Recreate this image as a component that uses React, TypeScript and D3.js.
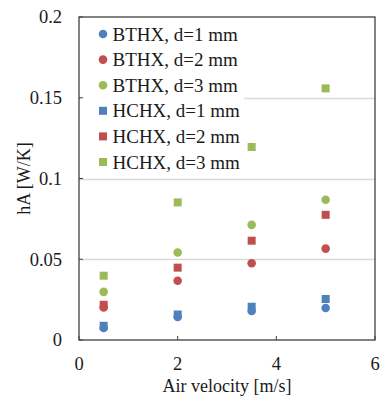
import { useEffect, useRef } from 'react'
import * as d3 from 'd3'

// air velocity [m/s]
const velocities = [0.5, 2, 3.5, 5]

const seriesNames = [
  'BTHX, d=1 mm',
  'BTHX, d=2 mm',
  'BTHX, d=3 mm',
  'HCHX, d=1 mm',
  'HCHX, d=2 mm',
  'HCHX, d=3 mm',
]
const seriesShapes = ['circle', 'circle', 'circle', 'square', 'square', 'square']
const seriesColors = ['#4F81BD', '#C0504D', '#9BBB59', '#4F81BD', '#C0504D', '#9BBB59']

// hA [W/K]
const bthx1 = [0.0075, 0.0142, 0.018, 0.0198]
const bthx2 = [0.0202, 0.0367, 0.0475, 0.0566]
const bthx3 = [0.0298, 0.0542, 0.0713, 0.0868]
const hchx1 = [0.0088, 0.0158, 0.0206, 0.0254]
const hchx2 = [0.0218, 0.0448, 0.0615, 0.0775]
const hchx3 = [0.0398, 0.0852, 0.1195, 0.1558]

const yTicks = [0, 0.05, 0.1, 0.15, 0.2]
const yTickLabels = ['0', '0.05', '0.1', '0.15', '0.2']
const xTicks = [0, 2, 4, 6]

export default function App() {
  const svgRef = useRef<SVGSVGElement>(null)

  useEffect(() => {
    if (!svgRef.current) return
    const svg = d3.select(svgRef.current)
    svg.selectAll('*').remove()

    const width = 380
    const height = 398
    const margin = { top: 17, right: 5, bottom: 58, left: 79 }
    const font = '"Liberation Serif", "Times New Roman", serif'
    const textColor = '#1a1a1a'

    const x = d3.scaleLinear().domain([0, 6]).range([margin.left, width - margin.right])
    const y = d3.scaleLinear().domain([0, 0.2]).range([height - margin.bottom, margin.top])

    svg.attr('width', width).attr('height', height)
    svg.append('rect').attr('width', width).attr('height', height).attr('fill', '#fff')

    // gridlines
    svg.append('g')
      .selectAll('line')
      .data(yTicks.slice(1, -1))
      .enter()
      .append('line')
      .attr('x1', x(0))
      .attr('x2', x(6))
      .attr('y1', d => Math.round(y(d)) + 0.5)
      .attr('y2', d => Math.round(y(d)) + 0.5)
      .attr('stroke', '#d9d9d9')
      .attr('stroke-width', 1.5)

    // legend background (covers gridlines)
    svg.append('rect')
      .attr('x', x(0) + 1)
      .attr('y', margin.top + 1)
      .attr('width', 164)
      .attr('height', 154)
      .attr('fill', '#fff')

    const allSeries = [bthx1, bthx2, bthx3, hchx1, hchx2, hchx3]
    const size = 8

    // markers
    allSeries.forEach((values, si) => {
      const g = svg.append('g')
      const pts = velocities.map((v, i) => ({ v, h: values[i] }))
      if (seriesShapes[si] === 'circle') {
        g.selectAll('circle')
          .data(pts)
          .enter()
          .append('circle')
          .attr('cx', d => x(d.v))
          .attr('cy', d => y(d.h))
          .attr('r', size / 2 + 0.3)
          .attr('fill', seriesColors[si])
      } else {
        g.selectAll('rect')
          .data(pts)
          .enter()
          .append('rect')
          .attr('x', d => x(d.v) - size / 2)
          .attr('y', d => y(d.h) - size / 2)
          .attr('width', size)
          .attr('height', size)
          .attr('fill', seriesColors[si])
      }
    })

    // frame
    svg.append('rect')
      .attr('x', x(0))
      .attr('y', y(0.2))
      .attr('width', x(6) - x(0))
      .attr('height', y(0) - y(0.2))
      .attr('fill', 'none')
      .attr('stroke', '#404040')
      .attr('stroke-width', 1.3)

    // y ticks
    svg.append('g')
      .selectAll('line')
      .data(yTicks)
      .enter()
      .append('line')
      .attr('x1', x(0))
      .attr('x2', x(0) + 4)
      .attr('y1', d => y(d))
      .attr('y2', d => y(d))
      .attr('stroke', '#404040')

    svg.append('g')
      .selectAll('text')
      .data(yTicks)
      .enter()
      .append('text')
      .attr('x', 62)
      .attr('y', d => y(d))
      .attr('dy', '0.35em')
      .attr('text-anchor', 'end')
      .style('font-family', font)
      .style('font-size', '18.5px')
      .style('fill', textColor)
      .text((d, i) => yTickLabels[i])

    // x ticks
    svg.append('g')
      .selectAll('line')
      .data(xTicks)
      .enter()
      .append('line')
      .attr('x1', d => x(d))
      .attr('x2', d => x(d))
      .attr('y1', y(0))
      .attr('y2', y(0) - 4)
      .attr('stroke', '#404040')

    svg.append('g')
      .selectAll('text')
      .data(xTicks)
      .enter()
      .append('text')
      .attr('x', d => x(d))
      .attr('y', 370)
      .attr('text-anchor', 'middle')
      .style('font-family', font)
      .style('font-size', '18.5px')
      .style('fill', textColor)
      .text(d => String(d))

    // axis titles
    svg.append('text')
      .attr('x', (x(0) + x(6)) / 2)
      .attr('y', 392)
      .attr('text-anchor', 'middle')
      .style('font-family', font)
      .style('font-size', '18px')
      .style('fill', textColor)
      .text('Air velocity [m/s]')

    svg.append('text')
      .attr('transform', `translate(30,${(y(0) + y(0.2)) / 2}) rotate(-90)`)
      .attr('text-anchor', 'middle')
      .style('font-family', font)
      .style('font-size', '18px')
      .style('fill', textColor)
      .text('hA [W/K]')

    // legend
    const legend = svg.append('g')
    seriesNames.forEach((name, i) => {
      const cy = 34 + i * 25.6
      if (seriesShapes[i] === 'circle') {
        legend.append('circle')
          .attr('cx', 103)
          .attr('cy', cy)
          .attr('r', size / 2 + 0.3)
          .attr('fill', seriesColors[i])
      } else {
        legend.append('rect')
          .attr('x', 103 - size / 2)
          .attr('y', cy - size / 2)
          .attr('width', size)
          .attr('height', size)
          .attr('fill', seriesColors[i])
      }
      legend.append('text')
        .attr('x', 112.5)
        .attr('y', cy)
        .attr('dy', '0.35em')
        .style('font-family', font)
        .style('font-size', '19px')
        .style('fill', textColor)
        .text(name)
    })
  }, [])

  return <svg ref={svgRef} style={{ position: 'absolute', left: 0, top: 0 }} />
}
